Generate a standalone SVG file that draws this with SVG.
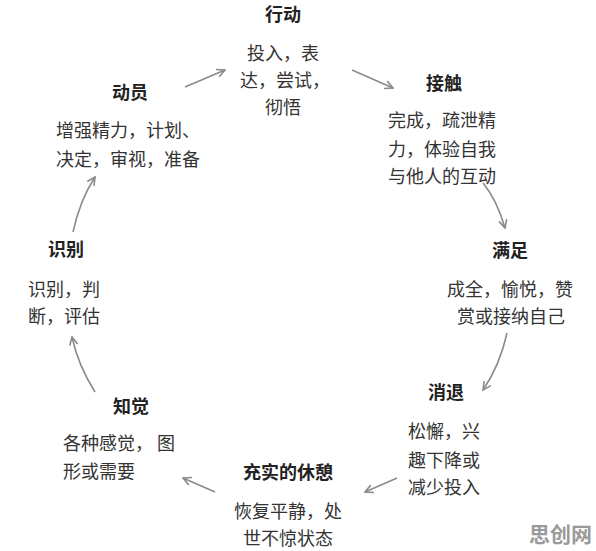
<svg xmlns="http://www.w3.org/2000/svg" width="596" height="551" viewBox="0 0 596 551">
<style>
text{font-family:"Noto Sans CJK SC","Noto Sans",sans-serif;font-size:18px;fill:#333}
.t{font-weight:bold;fill:#222;text-anchor:middle}
.m{text-anchor:middle}
.c{fill:none;stroke:#8a8a8a;stroke-width:1.6}
.wm{font-size:21px;font-weight:bold;fill:#9a9a9a}
</style>
<defs>
<marker id="ah" viewBox="0 0 10 10" refX="9" refY="5" markerWidth="10" markerHeight="10" markerUnits="userSpaceOnUse" orient="auto">
<path d="M1,1 L9,5 L1,9" fill="none" stroke="#8a8a8a" stroke-width="1.6"/>
</marker>
</defs>
<rect width="596" height="551" fill="#fff"/>
<g id="connectors">
<path class="c" d="M185,87 L225,70" marker-end="url(#ah)"/>
<path class="c" d="M352,70 L393,88" marker-end="url(#ah)"/>
<path class="c" d="M483,183 Q497,200 505,228" marker-end="url(#ah)"/>
<path class="c" d="M507,333 Q500,365 483,390" marker-end="url(#ah)"/>
<path class="c" d="M397,478 L365,492" marker-end="url(#ah)"/>
<path class="c" d="M215,492 L183,478" marker-end="url(#ah)"/>
<path class="c" d="M95,392 Q78,365 72,337" marker-end="url(#ah)"/>
<path class="c" d="M73,232 Q80,200 95,177" marker-end="url(#ah)"/>
</g>
<g id="xingdong">
<text class="t" x="283" y="21">行动</text>
<text class="m" x="283" y="60">投入，表</text>
<text class="m" x="285" y="87">达，尝试，</text>
<text class="m" x="283" y="114">彻悟</text>
</g>
<g id="jiechu">
<text class="t" x="444" y="90">接触</text>
<text x="388" y="127">完成，疏泄精</text>
<text x="388" y="156">力，体验自我</text>
<text x="388" y="183">与他人的互动</text>
</g>
<g id="manzu">
<text class="t" x="510" y="257">满足</text>
<text class="m" x="510" y="296">成全，愉悦，赞</text>
<text class="m" x="511" y="323">赏或接纳自己</text>
</g>
<g id="xiaotui">
<text class="t" x="446" y="399">消退</text>
<text x="408" y="438">松懈，兴</text>
<text x="408" y="467">趣下降或</text>
<text x="408" y="494">减少投入</text>
</g>
<g id="xiuxi">
<text class="t" x="288" y="479">充实的休憩</text>
<text class="m" x="288" y="518">恢复平静，处</text>
<text class="m" x="288" y="545">世不惊状态</text>
</g>
<g id="zhijue">
<text class="t" x="131" y="413">知觉</text>
<text x="63" y="450">各种感觉， 图</text>
<text x="63" y="478">形或需要</text>
</g>
<g id="shibie">
<text class="t" x="66" y="256">识别</text>
<text x="28" y="296">识别，判</text>
<text x="28" y="323">断，评估</text>
</g>
<g id="dongyuan">
<text class="t" x="130" y="99">动员</text>
<text x="56" y="137">增强精力，计划、</text>
<text x="56" y="166">决定，审视，准备</text>
</g>
<text class="wm" x="529" y="542">思创网</text>
</svg>
